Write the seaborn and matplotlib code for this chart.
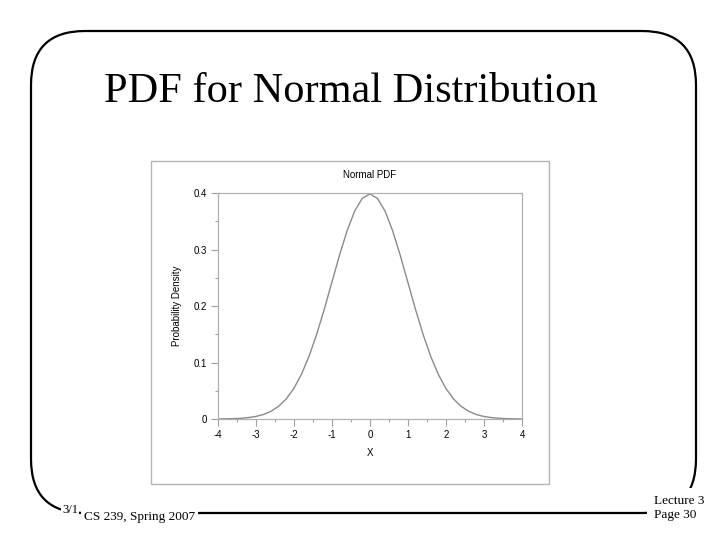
import matplotlib
matplotlib.use("Agg")
import matplotlib.pyplot as plt
from matplotlib.patches import FancyBboxPatch, Rectangle
from matplotlib.ticker import MultipleLocator, FuncFormatter
import pandas as pd
import seaborn as sns

# --- datos (curva de densidad normal estandar) ---
x_vals = [-4.0, -3.8, -3.6, -3.4, -3.2, -3.0, -2.8, -2.6, -2.4, -2.2, -2.0,
          -1.8, -1.6, -1.4, -1.2, -1.0, -0.8, -0.6, -0.4, -0.2, 0.0,
          0.2, 0.4, 0.6, 0.8, 1.0, 1.2, 1.4, 1.6, 1.8, 2.0,
          2.2, 2.4, 2.6, 2.8, 3.0, 3.2, 3.4, 3.6, 3.8, 4.0]
densidad = [0.0001, 0.0003, 0.0006, 0.0012, 0.0024, 0.0044, 0.0079, 0.0136,
            0.0224, 0.0355, 0.0540, 0.0790, 0.1109, 0.1497, 0.1942, 0.2420,
            0.2897, 0.3332, 0.3683, 0.3910, 0.3989,
            0.3910, 0.3683, 0.3332, 0.2897, 0.2420, 0.1942, 0.1497, 0.1109,
            0.0790, 0.0540, 0.0355, 0.0224, 0.0136, 0.0079, 0.0044, 0.0024,
            0.0012, 0.0006, 0.0003, 0.0001]
x_ticks = [-4, -3, -2, -1, 0, 1, 2, 3, 4]
y_ticks = [0, 0.1, 0.2, 0.3, 0.4]

titulo = "PDF for Normal Distribution"
pie_izq = "CS 239, Spring 2007"
pie_der = "Lecture 3\nPage 30"

df = pd.DataFrame({"x": x_vals, "pdf": densidad})

sns.set_style("white")
plt.rcParams["font.family"] = ["Liberation Sans", "DejaVu Sans"]
plt.rcParams["axes.unicode_minus"] = False
plt.rcParams["text.color"] = "black"
plt.rcParams["axes.labelcolor"] = "black"
plt.rcParams["xtick.labelcolor"] = "black"
plt.rcParams["ytick.labelcolor"] = "black"

fig = plt.figure(figsize=(7.2, 5.4), dpi=100)

# --- fondo de la diapositiva en coordenadas de pixel ---
bg = fig.add_axes([0, 0, 1, 1], zorder=0)
bg.set_xlim(0, 720)
bg.set_ylim(540, 0)
bg.axis("off")
bg.add_patch(FancyBboxPatch((31, 31), 665, 482,
                            boxstyle="round,pad=0,rounding_size=54",
                            facecolor="white", edgecolor="black", linewidth=1.6))
bg.add_patch(Rectangle((151, 161), 398, 323, facecolor="white",
                       edgecolor="#b4b4b4", linewidth=1.0))
bg.text(351, 92, titulo, ha="center", va="center", fontsize=30.5,
        family=["Liberation Serif"])
bg.text(62, 510, "3/1", ha="left", va="center", fontsize=9,
        family=["Liberation Serif"],
        bbox=dict(facecolor="white", edgecolor="none", pad=1))
bg.text(84, 517, pie_izq, ha="left", va="center", fontsize=9.5,
        family=["Liberation Serif"],
        bbox=dict(facecolor="white", edgecolor="none", pad=2))
bg.text(654, 508, pie_der, ha="left", va="center", fontsize=9.5,
        family=["Liberation Serif"], linespacing=1.15,
        bbox=dict(facecolor="white", edgecolor="none", pad=5))

# --- grafico principal ---
ax = fig.add_axes([0.3024, 0.2241, 0.4226, 0.4180], zorder=2)
sns.lineplot(data=df, x="x", y="pdf", ax=ax, color="#8a8a8a", linewidth=1.0)
ax.set_xlim(-4, 4)
ax.set_ylim(0, 0.4)
ax.set_xticks(x_ticks)
ax.set_yticks(y_ticks)
ax.xaxis.set_minor_locator(MultipleLocator(0.5))
ax.yaxis.set_minor_locator(MultipleLocator(0.05))
ax.yaxis.set_major_formatter(FuncFormatter(lambda v, p: "0" if v == 0 else f"{v:.1f}"))
ax.tick_params(which="major", direction="out", length=5, width=0.8,
               color="#a0a0a0", labelsize=7, pad=3,
               bottom=True, left=True)
ax.tick_params(which="minor", direction="out", length=2.5, width=0.8,
               color="#a0a0a0", bottom=True, left=True)
for s in ax.spines.values():
    s.set_color("#b0b0b0")
    s.set_linewidth(0.9)
ax.set_xlabel("X", fontsize=7, labelpad=6)
ax.set_ylabel("Probability Density", fontsize=7, labelpad=8)
ax.set_title("Normal PDF", fontsize=7, pad=11)

fig.savefig("out.png", dpi=100)
